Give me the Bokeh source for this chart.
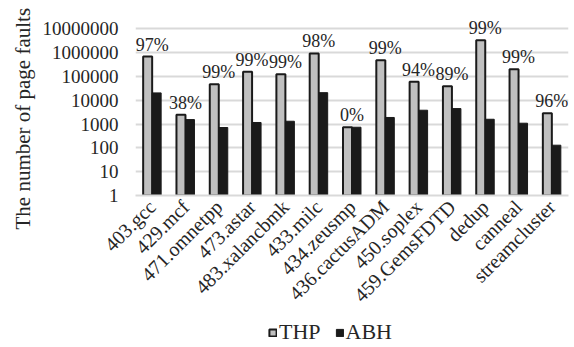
from math import pi
from bokeh.plotting import figure
from bokeh.layouts import column
from bokeh.models import (FactorRange, Range1d, FixedTicker, PrintfTickFormatter,
                          ColumnDataSource, Legend, LegendItem, Title)
from bokeh.transform import dodge
from bokeh.core.properties import value
from bokeh.embed import file_html
from bokeh.resources import INLINE

benchmarks = ["403.gcc", "429.mcf", "471.omnetpp", "473.astar", "483.xalancbmk",
              "433.milc", "434.zeusmp", "436.cactusADM", "450.soplex",
              "459.GemsFDTD", "dedup", "canneal", "streamcluster"]
thp = [690000, 2450, 47500, 158000, 125000, 930000, 740, 485000, 60000,
       39000, 3350000, 203000, 2870]
abh = [20500, 1550, 720, 1170, 1320, 21000, 740, 1900, 3830, 4500, 1600,
       1090, 130]
reduction = ["97%", "38%", "99%", "99%", "99%", "98%", "0%", "99%", "94%",
             "89%", "99%", "99%", "96%"]
y_ticks = [1, 10, 100, 1000, 10000, 100000, 1000000, 10000000]
series = ["THP", "ABH"]

FONT = "Liberation Serif"
TXT = "#262626"
THP_FILL = "#c0c0c0"
DARK = "#1a1a1a"

src = ColumnDataSource(dict(x=benchmarks, thp=thp, abh=abh, lab=reduction))

p = figure(x_range=FactorRange(*benchmarks), y_range=Range1d(1, 10 ** 7.69),
           y_axis_type="log", width=574, height=316,
           output_backend="svg", toolbar_location=None,
           min_border_left=135, min_border_right=6, min_border_top=12,
           min_border_bottom=121)

p.vbar(x=dodge("x", -0.135, range=p.x_range), top="thp", bottom=1,
       width=0.27, source=src, fill_color=THP_FILL,
       line_color=DARK, line_width=2)
p.vbar(x=dodge("x", 0.135, range=p.x_range), top="abh", bottom=1,
       width=0.27, source=src, fill_color=DARK,
       line_color=DARK, line_width=1)

p.text(x="x", y="thp", text="lab", source=src, text_align="center",
       text_baseline="bottom", y_offset=-2, text_font=value(FONT),
       text_font_size="18px", text_color=TXT)

p.yaxis.ticker = FixedTicker(ticks=y_ticks)
p.yaxis.formatter = PrintfTickFormatter(format="%d")
p.yaxis.major_label_text_font = FONT
p.yaxis.major_label_text_font_size = "19px"
p.yaxis.major_label_text_color = TXT
p.yaxis.axis_line_color = None
p.yaxis.major_tick_line_color = None
p.yaxis.minor_tick_line_color = None
p.yaxis.major_label_standoff = 11

p.xaxis.major_label_orientation = pi / 4
p.xaxis.major_label_text_font = FONT
p.xaxis.major_label_text_font_size = "20px"
p.xaxis.major_label_text_color = TXT
p.xaxis.axis_line_color = "#d9d9d9"
p.xaxis.axis_line_width = 2
p.xaxis.major_tick_line_color = None
p.xaxis.minor_tick_line_color = None
p.xaxis.major_label_standoff = 2

p.xgrid.visible = False
p.ygrid.grid_line_color = "#d9d9d9"
p.ygrid.grid_line_width = 2
p.outline_line_color = None

p.add_layout(Title(text="The number of page faults", align="left",
                   offset=-34, standoff=10, text_font=FONT,
                   text_font_size="21px", text_font_style="normal",
                   text_color=TXT), "left")

# legend strip
lg = figure(width=574, height=31, x_range=Range1d(0, 1), y_range=Range1d(0, 1),
            output_backend="svg", toolbar_location=None,
            min_border=0, outline_line_color=None)
lg.axis.visible = False
lg.grid.visible = False
r1 = lg.vbar(x=[0.5], top=[0.5], bottom=0.5, width=0, fill_color=THP_FILL,
             line_color=DARK, line_width=2)
r2 = lg.vbar(x=[0.5], top=[0.5], bottom=0.5, width=0, fill_color=DARK,
             line_color=DARK, line_width=1)
legend = Legend(items=[LegendItem(label=series[0], renderers=[r1]),
                       LegendItem(label=series[1], renderers=[r2])],
                orientation="horizontal", location=(133, 2),
                label_text_font=FONT, label_text_font_size="22px",
                label_text_color=TXT, glyph_width=9, glyph_height=9,
                label_standoff=2, spacing=14, padding=0, margin=0,
                border_line_color=None, background_fill_alpha=0,
                label_height=22)
lg.add_layout(legend, "center")

open("out.html", "w").write(file_html(column(p, lg, spacing=0), INLINE))
